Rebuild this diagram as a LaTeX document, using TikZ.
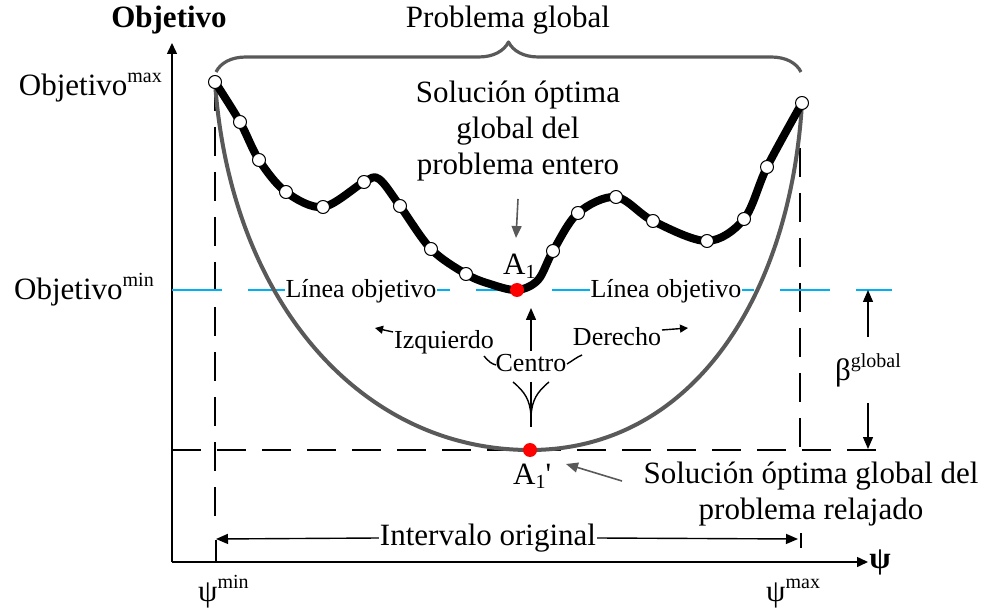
\documentclass[tikz,border=0pt]{standalone}
\usepackage{fontspec}
\setmainfont{Liberation Serif}
\newfontfamily\rawserif{Liberation Serif}
\usetikzlibrary{arrows.meta,decorations.pathreplacing}
\definecolor{lineablue}{RGB}{0,176,240}
\definecolor{relaxgray}{RGB}{89,89,89}
\definecolor{optred}{RGB}{255,0,0}
\newcommand{\hoch}[1]{\raisebox{13pt}{\fontsize{20}{20}\selectfont #1}}
\newcommand{\tief}[1]{\raisebox{-4pt}{\fontsize{20}{20}\selectfont #1}}
\tikzset{
  axisline/.style={line width=1.5pt,-{Triangle[length=11pt,width=10pt]}},
  guide/.style={line width=1.4pt,dash pattern=on 29pt off 16pt},
  targetline/.style={line width=2.8pt,lineablue,dash pattern=on 50pt off 26pt},
  txt/.style={font=\fontsize{31}{36}\selectfont,inner sep=1pt},
  smalltxt/.style={font=\fontsize{26}{30}\selectfont,inner sep=1pt},
  sample/.style={circle,draw,fill=white,line width=1pt,inner sep=0pt,minimum size=13pt},
  optdot/.style={circle,fill=optred,inner sep=0pt,minimum size=14pt},
  tri/.style={line width=1.4pt,-{Triangle[length=12pt,width=10pt]}},
  smalltri/.style={line width=1.4pt,-{Triangle[length=8pt,width=8pt]}},
  grayarrow/.style={line width=1.6pt,relaxgray,-{Triangle[length=12pt,width=10pt]}},
  bracket/.style={decorate,decoration={brace,amplitude=30pt},line width=3.2pt,relaxgray},
}
\begin{document}
\begin{tikzpicture}[x=1pt,y=-1pt,line join=round]
  \useasboundingbox (0,0) rectangle (988,609);
  \coordinate (orig) at (172,562);
  \coordinate (ytip) at (172,43);
  \coordinate (xtip) at (868,562);
  \coordinate (topl) at (215,82);
  \coordinate (topr) at (802,103);
  \coordinate (relmin) at (530,450);
  \coordinate (entmin) at (517,290);
  % axes
  \draw[axisline] (orig) -- (ytip);
  \draw[axisline] (orig) -- (xtip);
  % guide lines
  \draw[guide] (topl) -- (215,523);
  \draw[guide] (800,103) -- (800,450);
  \draw[guide] (172,450) -- (885,450);
  \draw[targetline] (172,290) -- (892,290);
  \node[smalltxt,fill=white,anchor=base] (linl) at (361,298) {Línea objetivo};
  \node[smalltxt,fill=white,anchor=base] (linr) at (666,298) {Línea objetivo};
  % relaxed problem
  \draw[relaxgray,line width=4pt] (topl) .. controls (230,300) and (360,450) .. (relmin)
    .. controls (690,450) and (790,300) .. (topr);
  % whole problem
  \draw[line width=8pt,line cap=round] plot[smooth,tension=0.55] coordinates {
    (215,82) (240,122) (259,160) (286,192) (323,207) (364,182) (379,179) (400,206)
    (431,249) (466,274) (490,284) (517,290) (538,280) (553,251) (578,213) (616,197)
    (653,221) (707,241) (744,219) (767,167) (802,103)};
  \foreach \px/\py [count=\i] in {215/82,240/122,259/160,286/192,323/207,364/182,400/206,
      431/249,466/274,553/251,578/213,616/197,653/221,707/241,744/219,767/167,802/103}
    \node[sample] (s\i) at (\px,\py) {};
  \node[optdot] (a1) at (entmin) {};
  \node[optdot] (a1r) at (relmin) {};
  % texts
  \node[txt,anchor=base] (ylab) at (169,28) {\textbf{Objetivo}};
  \node[txt] (glob) at (508,20) {Problema global};
  \draw[bracket] (216,72) -- (801,72);
  \node[txt,anchor=base east] (omax) at (163,96) {Objetivo\hoch{max}};
  \node[txt,anchor=base east] (omin) at (155,300) {Objetivo\hoch{min}};
  \node[txt,align=center] (solent) at (518,131) {Solución óptima\\global del\\problema entero};
  \coordinate (solentend) at (516,238);
  \draw[grayarrow] (518,199) -- (solentend);
  \node[txt,anchor=base west] (a1lab) at (502,275) {A\tief{1}};
  \node[txt,anchor=base west] (a1rlab) at (512,484) {A\tief{1}{\rawserif'}};
  \node[smalltxt,anchor=base] (izq) at (444,349) {Izquierdo};
  \node[smalltxt,anchor=base] (der) at (617,346) {Derecho};
  \node[smalltxt,anchor=base] (cen) at (531,372) {Centro};
  \coordinate (izqend) at (375,328);
  \coordinate (derend) at (688,328);
  \coordinate (cenend) at (531,308);
  \draw[smalltri] (393,332) -- (izqend);
  \draw[smalltri] (662,330) -- (derend);
  \draw[tri] (cen.north) ++(0,-3) -- (cenend);
  \draw[line width=1.4pt] (484,356) .. controls (489,362) and (492,364) .. (496,365);
  \draw[line width=1.4pt] (567,364) .. controls (572,361) and (577,357) .. (582,355);
  \draw[line width=1.4pt] (531,382) -- (531,427);
  \draw[line width=1.4pt] (513,382) .. controls (525,392) and (530,400) .. (531,416);
  \draw[line width=1.4pt] (549,382) .. controls (537,392) and (532,400) .. (531,416);
  \node[txt,align=center] (solrel) at (811,494) {Solución óptima global del\\problema relajado};
  \coordinate (solrelend) at (566,464);
  \draw[grayarrow] (622,481) -- (solrelend);
  % beta
  \node[txt] (beta) at (868,370) {β\hoch{global}};
  \coordinate (betatop) at (868,290);
  \coordinate (betabot) at (868,449);
  \draw[tri] (868,337) -- (betatop);
  \draw[tri] (868,403) -- (betabot);
  % interval
  \node[txt] (intv) at (488,538) {Intervalo original};
  \coordinate (intl) at (216,539);
  \coordinate (intr) at (798,539);
  \draw[tri] (intv.west) -- (intl);
  \draw[tri] (intv.east) -- (intr);
  \draw[line width=1.4pt] (216,540) -- (216,562);
  \draw[line width=1.4pt] (801,533) -- (801,548);
  % psi labels
  \node[txt] (psi) at (880,562) {\textbf{ψ}};
  \node[txt,anchor=base west] (psimin) at (197,601) {ψ\hoch{min}};
  \node[txt,anchor=base west] (psimax) at (765,601) {ψ\hoch{max}};
\end{tikzpicture}
\end{document}
